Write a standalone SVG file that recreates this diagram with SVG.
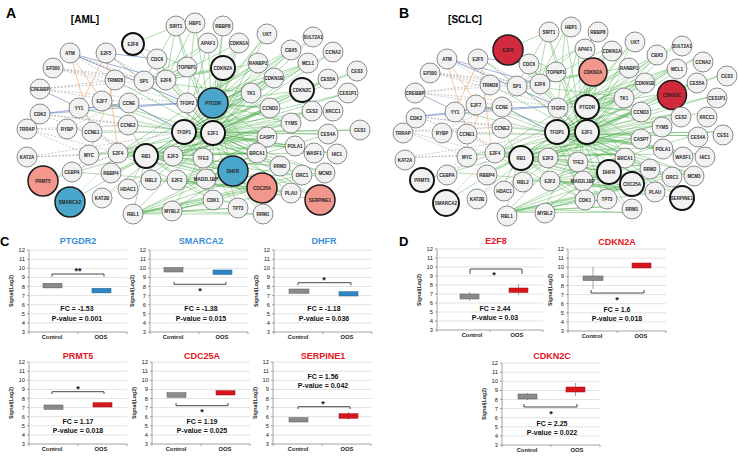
<svg xmlns="http://www.w3.org/2000/svg" width="738" height="457" viewBox="0 0 738 457">
<style>
.n circle{fill:#f2f2f2;stroke:#6e6e6e;stroke-width:.8}
.n text{font-family:"Liberation Sans",Arial,sans-serif;font-size:4.5px;font-weight:bold;fill:#222;text-anchor:middle;dominant-baseline:central}
.n.k circle{stroke:#111;stroke-width:1.9}
.n.bu circle{fill:#4aa6ca;stroke:#1b1b1b;stroke-width:1.5}
.n.sa circle{fill:#f3968b;stroke:#1b1b1b;stroke-width:1.5}
.n.cr circle{fill:#d22a3d;stroke:#1b1b1b;stroke-width:1.5}
.eg{fill:none;stroke:#45ab45;stroke-width:.55;opacity:.8}
.ed{fill:none;stroke:#8a8a8a;stroke-width:.55;stroke-dasharray:2 1.5;opacity:.85}
.eb{fill:none;stroke:#5a7cc0;stroke-width:.7;opacity:.85}
.eo{fill:none;stroke:#f0a060;stroke-width:.6}
.pl{font-family:"Liberation Sans",Arial,sans-serif;font-weight:bold;fill:#000}
.tt{font-family:"Liberation Sans",Arial,sans-serif;font-weight:bold;font-size:9px;text-anchor:middle}
.tb{fill:#3b8fd4}.tr{fill:#e3141c}
.fc{font-family:"Liberation Sans",Arial,sans-serif;font-weight:bold;font-size:7px;text-anchor:middle;fill:#111}
.cat{font-family:"Liberation Sans",Arial,sans-serif;font-weight:bold;font-size:5.8px;text-anchor:middle;fill:#222}
.tk{font-family:"Liberation Sans",Arial,sans-serif;font-size:5.8px;text-anchor:end;fill:#222}
.yl{font-family:"Liberation Sans",Arial,sans-serif;font-weight:bold;font-size:5.3px;text-anchor:middle;fill:#222}
.st{font-family:"Liberation Sans",Arial,sans-serif;font-weight:bold;font-size:9px;text-anchor:middle;fill:#111}
.br{fill:none;stroke:#333;stroke-width:.9}
.grid{fill:none;stroke:#d6d6d6;stroke-width:.7}
.ax{fill:none;stroke:#8a8a8a;stroke-width:.8}
.gr{fill:#8a8a8a;stroke:#555;stroke-width:.5}
.bl{fill:#2f86c4;stroke:#1d5e8e;stroke-width:.5}
.rd{fill:#d8141c;stroke:#9e0f14;stroke-width:.5}
.wh{stroke:#666;stroke-width:.6}
</style>
<defs>
<g id="frame">
<path class="grid" d="M0 -9.1H98M0 -18.2H98M0 -27.3H98M0 -36.4H98M0 -45.5H98M0 -54.6H98M0 -63.7H98M0 -72.8H98M0 -81.9H98"/>
<path class="ax" d="M0 -81.9V0H98M-2 0H0M-2 -9.1H0M-2 -18.2H0M-2 -27.3H0M-2 -36.4H0M-2 -45.5H0M-2 -54.6H0M-2 -63.7H0M-2 -72.8H0M-2 -81.9H0M0 0V2M49 0V2M98 0V2"/>
<text class="tk" x="-4" y="2">3</text><text class="tk" x="-4" y="-7.1">4</text><text class="tk" x="-4" y="-16.2">5</text><text class="tk" x="-4" y="-25.3">6</text><text class="tk" x="-4" y="-34.4">7</text><text class="tk" x="-4" y="-43.5">8</text><text class="tk" x="-4" y="-52.6">9</text><text class="tk" x="-4" y="-61.7">10</text><text class="tk" x="-4" y="-70.8">11</text><text class="tk" x="-4" y="-79.9">12</text>
<text class="yl" transform="translate(-16,-41) rotate(-90)">Signal(Log2)</text>
</g>
<g id="frameW">
<path class="grid" d="M0 -9H106M0 -18H106M0 -27H106M0 -36H106M0 -45H106M0 -54H106M0 -63H106M0 -72H106M0 -81H106"/>
<path class="ax" d="M0 -81V0H106M-2 0H0M-2 -9H0M-2 -18H0M-2 -27H0M-2 -36H0M-2 -45H0M-2 -54H0M-2 -63H0M-2 -72H0M-2 -81H0M0 0V2M53 0V2M106 0V2"/>
<text class="tk" x="-4" y="2">3</text><text class="tk" x="-4" y="-7">4</text><text class="tk" x="-4" y="-16">5</text><text class="tk" x="-4" y="-25">6</text><text class="tk" x="-4" y="-34">7</text><text class="tk" x="-4" y="-43">8</text><text class="tk" x="-4" y="-52">9</text><text class="tk" x="-4" y="-61">10</text><text class="tk" x="-4" y="-70">11</text><text class="tk" x="-4" y="-79">12</text>
<text class="yl" transform="translate(-16,-40) rotate(-90)">Signal(Log2)</text>
</g>
</defs>
<rect width="738" height="457" fill="#fff"/>

<text class="pl" x="6" y="18" font-size="14">A</text>
<text class="pl" x="85" y="23" font-size="10" text-anchor="middle">[AML]</text>
<text class="pl" x="399" y="18" font-size="14">B</text>
<text class="pl" x="465" y="23" font-size="10" text-anchor="middle">[SCLC]</text>
<text class="pl" x="0" y="246" font-size="13">C</text>
<text class="pl" x="399" y="246" font-size="13">D</text>

<g id="edges-A">
<path class="eg" d="M213 133L176 26M213 133L195 23M213 133L223 26M213 133L208 43M213 133L239 43M213 133L267 34M213 133L313 37M213 133L291 50M213 133L333 52M213 133L308 63M213 133L357 71M213 133L258 63M213 133L274 78M213 133L328 79M213 133L302 90M213 133L348 93M213 133L251 93M213 133L270 108M213 133L312 111M213 133L333 111M213 133L291 123M213 133L360 130M213 133L328 134M213 133L267 137M213 133L295 146M213 133L314 153M213 133L337 154M213 133L257 153M213 133L280 166M213 133L302 175M213 133L325 173M213 133L291 193M213 133L320 200M213 133L238 208M213 133L263 214M213 133L213 200M213 133L172 211M213 133L133 214M213 133L203 158M213 133L206 179"/>
<path class="eg" d="M184 132L239 43M184 132L267 34M184 132L291 50M184 132L308 63M184 132L328 79M184 132L348 93M184 132L312 111M184 132L360 130M184 132L328 134M184 132L295 146M184 132L337 154M184 132L325 173M184 132L302 175M184 132L320 200M184 132L263 214M184 132L238 208M184 132L313 37M184 132L333 52M184 132L357 71M184 132L280 166M184 132L213 200"/>
<path class="eg" d="M213 103L223 68M213 103L187 67M213 103L251 93M213 103L274 78M213 103L258 63M213 103L270 108M213 103L308 63M213 103L291 50M213 103L267 34M213 103L302 90M213 103L291 123M213 103L267 137M213 103L257 153M213 103L233 171M213 103L239 43"/>
<path class="eg" d="M146 156L257 153M146 156L267 137M146 156L262 188M146 156L251 93M146 156L274 78M146 156L270 108M146 156L280 166M146 156L291 193M146 156L302 175M146 156L314 153M146 156L291 123M146 156L213 200M146 156L238 208M146 156L233 171"/>
<path class="eg" d="M118 153L258 63M118 153L251 93M118 153L270 108M118 153L267 137M118 153L257 153M118 153L262 188M118 153L295 146M118 153L280 166M118 153L213 200M118 153L233 171"/>
<path class="eg" d="M133 214L213 200M133 214L238 208M133 214L263 214M133 214L262 188M133 214L291 193M133 214L325 173M133 214L302 175M133 214L257 153M133 214L280 166M133 214L233 171"/>
<path class="eg" d="M177 180L262 188M177 180L291 193M177 180L320 200M177 180L325 173M177 180L328 134M177 180L267 137M177 180L233 171M173 156L251 93M173 156L270 108M173 156L291 123M173 156L312 111M173 156L257 153M173 156L233 171M172 211L263 214M172 211L262 188M172 211L238 208M172 211L233 171M172 211L213 200"/>
<path class="eg" d="M187 103L258 63M187 103L274 78M187 103L251 93M187 103L308 63M187 103L291 50M187 103L239 43M187 103L270 108M166 80L176 26M166 80L195 23M166 80L208 43M166 80L223 68M166 80L239 43M166 80L187 67M166 80L258 63M166 80L213 133M144 81L176 26M144 81L187 67M144 81L223 68M144 81L208 43M144 81L251 93M144 81L213 133"/>
<path class="eg" d="M133 44L187 67M133 44L213 133M133 44L176 26M176 26L187 67M157 59L187 103M157 59L213 133M115 80L213 133M102 101L213 133M102 101L184 132M129 103L184 132M128 125L213 133M89 155L118 153M89 155L213 133M72 172L177 180M111 173L213 133M111 173L146 156M128 189L213 133M128 189L146 156M102 198L184 132M70 202L146 156M43 181L213 133M92 132L213 133M79 108L184 132M106 53L213 133M128 125L146 156M133 214L146 156M151 180L213 133M151 180L262 188M151 180L291 193M187 67L213 133M223 68L213 133M208 43L184 132M195 23L187 103M223 26L213 103"/>
<path class="ed" d="M70 53L115 80M70 53L144 81M70 53L187 103M53 68L115 80M53 68L166 80M53 68L187 103M40 89L115 80M40 89L144 81M40 89L187 103M40 89L129 103M106 53L144 81M106 53L187 103M27 129L118 153M27 129L213 133M27 129L128 125M27 129L89 155M27 157L89 155M27 157L118 153M27 157L184 132M67 129L166 80M67 129L128 125M40 114L213 133M40 114L146 156M72 172L118 153M72 172L89 155M70 202L118 153M102 198L213 133M43 181L118 153M92 132L146 156M79 108L118 153M40 114L128 125M53 68L144 81"/>
<path class="eb" d="M70 53L166 80M70 53L187 103M40 114L187 103M40 114L129 103M79 108L187 103M129 103L184 132M40 89L79 108M106 53L157 59"/>
<path class="eo" d="M70 53L102 101M70 53L92 132M106 53L79 108M106 53L118 153M115 80L89 155"/>
</g>
<g id="edges-B" transform="matrix(0.955 0 0 0.96 379.2 7)"><use href="#edges-A"/></g>

<g id="nodes-A">
<g id="A-SIRT1" class="n"><circle cx="176" cy="26" r="10"/><text x="176" y="26">SIRT1</text></g>
<g id="A-HBP1" class="n"><circle cx="195" cy="23" r="10"/><text x="195" y="23">HBP1</text></g>
<g id="A-RBBP8" class="n"><circle cx="223" cy="26" r="10"/><text x="223" y="26">RBBP8</text></g>
<g id="A-E2F8" class="n k"><circle cx="133" cy="44" r="11"/><text x="133" y="44">E2F8</text></g>
<g id="A-APAF1" class="n"><circle cx="208" cy="43" r="10"/><text x="208" y="43">APAF1</text></g>
<g id="A-CDKN1A" class="n"><circle cx="239" cy="43" r="10"/><text x="239" y="43">CDKN1A</text></g>
<g id="A-UXT" class="n"><circle cx="267" cy="34" r="10"/><text x="267" y="34">UXT</text></g>
<g id="A-SULT2A1" class="n"><circle cx="313" cy="37" r="10"/><text x="313" y="37">SULT2A1</text></g>
<g id="A-ATM" class="n"><circle cx="70" cy="53" r="10"/><text x="70" y="53">ATM</text></g>
<g id="A-E2F5" class="n"><circle cx="106" cy="53" r="10"/><text x="106" y="53">E2F5</text></g>
<g id="A-CDC6" class="n"><circle cx="157" cy="59" r="10"/><text x="157" y="59">CDC6</text></g>
<g id="A-CBX5" class="n"><circle cx="291" cy="50" r="10"/><text x="291" y="50">CBX5</text></g>
<g id="A-CCNA2" class="n"><circle cx="333" cy="52" r="10"/><text x="333" y="52">CCNA2</text></g>
<g id="A-EP300" class="n"><circle cx="53" cy="68" r="10"/><text x="53" y="68">EP300</text></g>
<g id="A-TOPBP1" class="n"><circle cx="187" cy="67" r="10"/><text x="187" y="67">TOPBP1</text></g>
<g id="A-CDKN2A" class="n k"><circle cx="223" cy="68" r="12"/><text x="223" y="68">CDKN2A</text></g>
<g id="A-RANBP1" class="n"><circle cx="258" cy="63" r="10"/><text x="258" y="63">RANBP1</text></g>
<g id="A-MCL1" class="n"><circle cx="308" cy="63" r="10"/><text x="308" y="63">MCL1</text></g>
<g id="A-CES3" class="n"><circle cx="357" cy="71" r="10"/><text x="357" y="71">CES3</text></g>
<g id="A-TRIM28" class="n"><circle cx="115" cy="80" r="10"/><text x="115" y="80">TRIM28</text></g>
<g id="A-SP1" class="n"><circle cx="144" cy="81" r="10"/><text x="144" y="81">SP1</text></g>
<g id="A-E2F6" class="n"><circle cx="166" cy="80" r="10"/><text x="166" y="80">E2F6</text></g>
<g id="A-CDKN1B" class="n"><circle cx="274" cy="78" r="10"/><text x="274" y="78">CDKN1B</text></g>
<g id="A-CES5A" class="n"><circle cx="328" cy="79" r="10"/><text x="328" y="79">CES5A</text></g>
<g id="A-CREBBP" class="n"><circle cx="40" cy="89" r="10"/><text x="40" y="89">CREBBP</text></g>
<g id="A-CDKN2C" class="n k"><circle cx="302" cy="90" r="12"/><text x="302" y="90">CDKN2C</text></g>
<g id="A-CES1P1" class="n"><circle cx="348" cy="93" r="10"/><text x="348" y="93">CES1P1</text></g>
<g id="A-TK1" class="n"><circle cx="251" cy="93" r="10"/><text x="251" y="93">TK1</text></g>
<g id="A-E2F7" class="n"><circle cx="102" cy="101" r="10"/><text x="102" y="101">E2F7</text></g>
<g id="A-CCNE" class="n"><circle cx="129" cy="103" r="10"/><text x="129" y="103">CCNE</text></g>
<g id="A-TFDP2" class="n"><circle cx="187" cy="103" r="10"/><text x="187" y="103">TFDP2</text></g>
<g id="A-PTGDR" class="n bu"><circle cx="213" cy="103" r="15"/><text x="213" y="103">PTGDR</text></g>
<g id="A-YY1" class="n"><circle cx="79" cy="108" r="10"/><text x="79" y="108">YY1</text></g>
<g id="A-CDK2" class="n"><circle cx="40" cy="114" r="10"/><text x="40" y="114">CDK2</text></g>
<g id="A-CCND3" class="n"><circle cx="270" cy="108" r="10"/><text x="270" y="108">CCND3</text></g>
<g id="A-CES2" class="n"><circle cx="312" cy="111" r="10"/><text x="312" y="111">CES2</text></g>
<g id="A-XRCC1" class="n"><circle cx="333" cy="111" r="10"/><text x="333" y="111">XRCC1</text></g>
<g id="A-TRRAP" class="n"><circle cx="27" cy="129" r="10"/><text x="27" y="129">TRRAP</text></g>
<g id="A-RYBP" class="n"><circle cx="67" cy="129" r="10"/><text x="67" y="129">RYBP</text></g>
<g id="A-CCNE1" class="n"><circle cx="92" cy="132" r="10"/><text x="92" y="132">CCNE1</text></g>
<g id="A-CCNE2" class="n"><circle cx="128" cy="125" r="10"/><text x="128" y="125">CCNE2</text></g>
<g id="A-TFDP1" class="n k"><circle cx="184" cy="132" r="12"/><text x="184" y="132">TFDP1</text></g>
<g id="A-E2F1" class="n k"><circle cx="213" cy="133" r="12"/><text x="213" y="133">E2F1</text></g>
<g id="A-TYMS" class="n"><circle cx="291" cy="123" r="10"/><text x="291" y="123">TYMS</text></g>
<g id="A-CES1" class="n"><circle cx="360" cy="130" r="10"/><text x="360" y="130">CES1</text></g>
<g id="A-CES4A" class="n"><circle cx="328" cy="134" r="10"/><text x="328" y="134">CES4A</text></g>
<g id="A-CASP7" class="n"><circle cx="267" cy="137" r="10"/><text x="267" y="137">CASP7</text></g>
<g id="A-POLA1" class="n"><circle cx="295" cy="146" r="10"/><text x="295" y="146">POLA1</text></g>
<g id="A-WASF1" class="n"><circle cx="314" cy="153" r="10"/><text x="314" y="153">WASF1</text></g>
<g id="A-HIC1" class="n"><circle cx="337" cy="154" r="10"/><text x="337" y="154">HIC1</text></g>
<g id="A-KAT2A" class="n"><circle cx="27" cy="157" r="10"/><text x="27" y="157">KAT2A</text></g>
<g id="A-MYC" class="n"><circle cx="89" cy="155" r="10"/><text x="89" y="155">MYC</text></g>
<g id="A-E2F4" class="n"><circle cx="118" cy="153" r="10"/><text x="118" y="153">E2F4</text></g>
<g id="A-RB1" class="n k"><circle cx="146" cy="156" r="12"/><text x="146" y="156">RB1</text></g>
<g id="A-E2F3" class="n"><circle cx="173" cy="156" r="10"/><text x="173" y="156">E2F3</text></g>
<g id="A-TFE3" class="n"><circle cx="203" cy="158" r="10"/><text x="203" y="158">TFE3</text></g>
<g id="A-BRCA1" class="n"><circle cx="257" cy="153" r="10"/><text x="257" y="153">BRCA1</text></g>
<g id="A-RRM2" class="n"><circle cx="280" cy="166" r="10"/><text x="280" y="166">RRM2</text></g>
<g id="A-DHFR" class="n bu"><circle cx="233" cy="171" r="15"/><text x="233" y="171">DHFR</text></g>
<g id="A-ORC1" class="n"><circle cx="302" cy="175" r="10"/><text x="302" y="175">ORC1</text></g>
<g id="A-MCM3" class="n"><circle cx="325" cy="173" r="10"/><text x="325" y="173">MCM3</text></g>
<g id="A-PRMT5" class="n sa"><circle cx="43" cy="181" r="15"/><text x="43" y="181">PRMT5</text></g>
<g id="A-CEBPA" class="n"><circle cx="72" cy="172" r="10"/><text x="72" y="172">CEBPA</text></g>
<g id="A-RBBP4" class="n"><circle cx="111" cy="173" r="10"/><text x="111" y="173">RBBP4</text></g>
<g id="A-RBL2" class="n"><circle cx="151" cy="180" r="10"/><text x="151" y="180">RBL2</text></g>
<g id="A-E2F2" class="n"><circle cx="177" cy="180" r="10"/><text x="177" y="180">E2F2</text></g>
<g id="A-MAD2L1BP" class="n"><circle cx="206" cy="179" r="10"/><text x="206" y="179">MAD2L1BP</text></g>
<g id="A-HDAC1" class="n"><circle cx="128" cy="189" r="10"/><text x="128" y="189">HDAC1</text></g>
<g id="A-KAT2B" class="n"><circle cx="102" cy="198" r="10"/><text x="102" y="198">KAT2B</text></g>
<g id="A-SMARCA2" class="n bu"><circle cx="70" cy="202" r="15"/><text x="70" y="202">SMARCA2</text></g>
<g id="A-CDC25A" class="n sa"><circle cx="262" cy="188" r="15"/><text x="262" y="188">CDC25A</text></g>
<g id="A-PLAU" class="n"><circle cx="291" cy="193" r="10"/><text x="291" y="193">PLAU</text></g>
<g id="A-SERPINE1" class="n sa"><circle cx="320" cy="200" r="15"/><text x="320" y="200">SERPINE1</text></g>
<g id="A-RBL1" class="n"><circle cx="133" cy="214" r="10"/><text x="133" y="214">RBL1</text></g>
<g id="A-MYBL2" class="n"><circle cx="172" cy="211" r="10"/><text x="172" y="211">MYBL2</text></g>
<g id="A-CDK1" class="n"><circle cx="213" cy="200" r="10"/><text x="213" y="200">CDK1</text></g>
<g id="A-TP73" class="n"><circle cx="238" cy="208" r="10"/><text x="238" y="208">TP73</text></g>
<g id="A-RRM1" class="n"><circle cx="263" cy="214" r="10"/><text x="263" y="214">RRM1</text></g>
</g>

<g id="nodes-B">
<g id="B-SIRT1" class="n"><circle cx="549" cy="32" r="10"/><text x="549" y="32">SIRT1</text></g>
<g id="B-HBP1" class="n"><circle cx="571" cy="27" r="10"/><text x="571" y="27">HBP1</text></g>
<g id="B-RBBP8" class="n"><circle cx="598" cy="32" r="10"/><text x="598" y="32">RBBP8</text></g>
<g id="B-E2F8" class="n cr"><circle cx="508" cy="50" r="15"/><text x="508" y="50">E2F8</text></g>
<g id="B-APAF1" class="n"><circle cx="585" cy="49" r="10"/><text x="585" y="49">APAF1</text></g>
<g id="B-CDKN1A" class="n"><circle cx="612" cy="51" r="10"/><text x="612" y="51">CDKN1A</text></g>
<g id="B-UXT" class="n"><circle cx="635" cy="42" r="10"/><text x="635" y="42">UXT</text></g>
<g id="B-SULT2A1" class="n"><circle cx="682" cy="46" r="10"/><text x="682" y="46">SULT2A1</text></g>
<g id="B-ATM" class="n"><circle cx="447" cy="59" r="10"/><text x="447" y="59">ATM</text></g>
<g id="B-E2F5" class="n"><circle cx="478" cy="59" r="10"/><text x="478" y="59">E2F5</text></g>
<g id="B-CDC6" class="n"><circle cx="529" cy="64" r="10"/><text x="529" y="64">CDC6</text></g>
<g id="B-CBX5" class="n"><circle cx="657" cy="55" r="10"/><text x="657" y="55">CBX5</text></g>
<g id="B-CCNA2" class="n"><circle cx="703" cy="62" r="10"/><text x="703" y="62">CCNA2</text></g>
<g id="B-EP300" class="n"><circle cx="430" cy="73" r="10"/><text x="430" y="73">EP300</text></g>
<g id="B-TOPBP1" class="n"><circle cx="556" cy="72" r="10"/><text x="556" y="72">TOPBP1</text></g>
<g id="B-CDKN2A" class="n sa"><circle cx="593" cy="72" r="14"/><text x="593" y="72">CDKN2A</text></g>
<g id="B-RANBP1" class="n"><circle cx="629" cy="68" r="10"/><text x="629" y="68">RANBP1</text></g>
<g id="B-MCL1" class="n"><circle cx="677" cy="69" r="10"/><text x="677" y="69">MCL1</text></g>
<g id="B-CES3" class="n"><circle cx="727" cy="76" r="10"/><text x="727" y="76">CES3</text></g>
<g id="B-TRIM28" class="n"><circle cx="490" cy="85" r="10"/><text x="490" y="85">TRIM28</text></g>
<g id="B-SP1" class="n"><circle cx="517" cy="86" r="10"/><text x="517" y="86">SP1</text></g>
<g id="B-E2F6" class="n"><circle cx="540" cy="84" r="10"/><text x="540" y="84">E2F6</text></g>
<g id="B-CDKN1B" class="n"><circle cx="645" cy="83" r="10"/><text x="645" y="83">CDKN1B</text></g>
<g id="B-CES5A" class="n"><circle cx="697" cy="83" r="10"/><text x="697" y="83">CES5A</text></g>
<g id="B-CREBBP" class="n"><circle cx="415" cy="93" r="10"/><text x="415" y="93">CREBBP</text></g>
<g id="B-CDKN2C" class="n cr"><circle cx="672" cy="95" r="14.5"/><text x="672" y="95">CDKN2C</text></g>
<g id="B-CES1P1" class="n"><circle cx="717" cy="98" r="10"/><text x="717" y="98">CES1P1</text></g>
<g id="B-TK1" class="n"><circle cx="624" cy="98" r="10"/><text x="624" y="98">TK1</text></g>
<g id="B-E2F7" class="n"><circle cx="476" cy="105" r="10"/><text x="476" y="105">E2F7</text></g>
<g id="B-CCNE" class="n"><circle cx="502" cy="107" r="10"/><text x="502" y="107">CCNE</text></g>
<g id="B-TFDP2" class="n"><circle cx="558" cy="108" r="10"/><text x="558" y="108">TFDP2</text></g>
<g id="B-PTGDR" class="n k"><circle cx="587" cy="107" r="12"/><text x="587" y="107">PTGDR</text></g>
<g id="B-YY1" class="n"><circle cx="455" cy="112" r="10"/><text x="455" y="112">YY1</text></g>
<g id="B-CDK2" class="n"><circle cx="416" cy="118" r="10"/><text x="416" y="118">CDK2</text></g>
<g id="B-CCND3" class="n"><circle cx="641" cy="112" r="10"/><text x="641" y="112">CCND3</text></g>
<g id="B-CES2" class="n"><circle cx="681" cy="117" r="10"/><text x="681" y="117">CES2</text></g>
<g id="B-XRCC1" class="n"><circle cx="707" cy="117" r="10"/><text x="707" y="117">XRCC1</text></g>
<g id="B-TRRAP" class="n"><circle cx="403" cy="133" r="10"/><text x="403" y="133">TRRAP</text></g>
<g id="B-RYBP" class="n"><circle cx="442" cy="133" r="10"/><text x="442" y="133">RYBP</text></g>
<g id="B-CCNE1" class="n"><circle cx="467" cy="134" r="10"/><text x="467" y="134">CCNE1</text></g>
<g id="B-CCNE2" class="n"><circle cx="502" cy="128" r="10"/><text x="502" y="128">CCNE2</text></g>
<g id="B-TFDP1" class="n k"><circle cx="557" cy="132" r="12"/><text x="557" y="132">TFDP1</text></g>
<g id="B-E2F1" class="n k"><circle cx="587" cy="132" r="12"/><text x="587" y="132">E2F1</text></g>
<g id="B-TYMS" class="n"><circle cx="662" cy="127" r="10"/><text x="662" y="127">TYMS</text></g>
<g id="B-CES1" class="n"><circle cx="723" cy="135" r="10"/><text x="723" y="135">CES1</text></g>
<g id="B-CES4A" class="n"><circle cx="698" cy="137" r="10"/><text x="698" y="137">CES4A</text></g>
<g id="B-CASP7" class="n"><circle cx="641" cy="139" r="10"/><text x="641" y="139">CASP7</text></g>
<g id="B-POLA1" class="n"><circle cx="663" cy="149" r="10"/><text x="663" y="149">POLA1</text></g>
<g id="B-WASF1" class="n"><circle cx="683" cy="157" r="10"/><text x="683" y="157">WASF1</text></g>
<g id="B-HIC1" class="n"><circle cx="705" cy="157" r="10"/><text x="705" y="157">HIC1</text></g>
<g id="B-KAT2A" class="n"><circle cx="405" cy="160" r="10"/><text x="405" y="160">KAT2A</text></g>
<g id="B-MYC" class="n"><circle cx="467" cy="157" r="10"/><text x="467" y="157">MYC</text></g>
<g id="B-E2F4" class="n"><circle cx="495" cy="153" r="10"/><text x="495" y="153">E2F4</text></g>
<g id="B-RB1" class="n k"><circle cx="521" cy="158" r="12"/><text x="521" y="158">RB1</text></g>
<g id="B-E2F3" class="n"><circle cx="548" cy="158" r="10"/><text x="548" y="158">E2F3</text></g>
<g id="B-TFE3" class="n"><circle cx="578" cy="162" r="10"/><text x="578" y="162">TFE3</text></g>
<g id="B-BRCA1" class="n"><circle cx="625" cy="158" r="10"/><text x="625" y="158">BRCA1</text></g>
<g id="B-RRM2" class="n"><circle cx="650" cy="169" r="10"/><text x="650" y="169">RRM2</text></g>
<g id="B-DHFR" class="n k"><circle cx="609" cy="172" r="12"/><text x="609" y="172">DHFR</text></g>
<g id="B-ORC1" class="n"><circle cx="672" cy="177" r="10"/><text x="672" y="177">ORC1</text></g>
<g id="B-MCM3" class="n"><circle cx="694" cy="176" r="10"/><text x="694" y="176">MCM3</text></g>
<g id="B-PRMT5" class="n k"><circle cx="422" cy="180" r="12"/><text x="422" y="180">PRMT5</text></g>
<g id="B-CEBPA" class="n"><circle cx="447" cy="175" r="10"/><text x="447" y="175">CEBPA</text></g>
<g id="B-RBBP4" class="n"><circle cx="487" cy="175" r="10"/><text x="487" y="175">RBBP4</text></g>
<g id="B-RBL2" class="n"><circle cx="523" cy="182" r="10"/><text x="523" y="182">RBL2</text></g>
<g id="B-E2F2" class="n"><circle cx="550" cy="181" r="10"/><text x="550" y="181">E2F2</text></g>
<g id="B-MAD2L1BP" class="n"><circle cx="583" cy="181" r="10"/><text x="583" y="181">MAD2L1BP</text></g>
<g id="B-HDAC1" class="n"><circle cx="504" cy="191" r="10"/><text x="504" y="191">HDAC1</text></g>
<g id="B-KAT2B" class="n"><circle cx="477" cy="199" r="10"/><text x="477" y="199">KAT2B</text></g>
<g id="B-SMARCA2" class="n k"><circle cx="446" cy="203" r="13"/><text x="446" y="203">SMARCA2</text></g>
<g id="B-CDC25A" class="n k"><circle cx="632" cy="184" r="12"/><text x="632" y="184">CDC25A</text></g>
<g id="B-PLAU" class="n"><circle cx="655" cy="192" r="10"/><text x="655" y="192">PLAU</text></g>
<g id="B-SERPINE1" class="n k"><circle cx="682" cy="198" r="12"/><text x="682" y="198">SERPINE1</text></g>
<g id="B-RBL1" class="n"><circle cx="507" cy="216" r="10"/><text x="507" y="216">RBL1</text></g>
<g id="B-MYBL2" class="n"><circle cx="545" cy="213" r="10"/><text x="545" y="213">MYBL2</text></g>
<g id="B-CDK1" class="n"><circle cx="585" cy="200" r="10"/><text x="585" y="200">CDK1</text></g>
<g id="B-TP73" class="n"><circle cx="607" cy="199" r="10"/><text x="607" y="199">TP73</text></g>
<g id="B-RRM1" class="n"><circle cx="632" cy="209" r="10"/><text x="632" y="209">RRM1</text></g>
</g>

<g id="chart-PTGDR2" transform="translate(29,332)">
<use href="#frame"/>
<text class="tt tb" x="49" y="-88.5">PTGDR2</text>
<rect class="gr" x="14" y="-48.7" width="19" height="4.6"/>
<rect class="bl" x="63" y="-43.7" width="19" height="4.6"/>
<path class="br" d="M23 -55.5V-58H75V-55.5"/>
<text class="st" x="49" y="-58.5">**</text>
<text class="fc" x="48" y="-21.5">FC = -1.53</text>
<text class="fc" x="48" y="-11.5">P-value = 0.001</text>
<text class="cat" x="23" y="7">Control</text><text class="cat" x="72" y="7">OOS</text>
</g>
<g id="chart-SMARCA2" transform="translate(150,332)">
<use href="#frame"/>
<text class="tt tb" x="51" y="-88.5">SMARCA2</text>
<rect class="gr" x="14" y="-64.5" width="19" height="4.5"/>
<rect class="bl" x="63" y="-62" width="19" height="4.4"/>
<path class="br" d="M24 -50.3V-47.7H76V-50.3"/>
<text class="st" x="50" y="-38">*</text>
<text class="fc" x="51" y="-21.5">FC = -1.38</text>
<text class="fc" x="51" y="-11.5">P-value = 0.015</text>
<text class="cat" x="23" y="7">Control</text><text class="cat" x="72" y="7">OOS</text>
</g>
<g id="chart-DHFR" transform="translate(274,332)">
<use href="#frame"/>
<text class="tt tb" x="50" y="-88.5">DHFR</text>
<rect class="gr" x="15" y="-43" width="20" height="4.3"/>
<rect class="bl" x="65" y="-40.3" width="19" height="4.3"/>
<path class="br" d="M24 -46.7V-49.3H77V-46.7"/>
<text class="st" x="50" y="-49">*</text>
<text class="fc" x="50" y="-21.5">FC = -1.18</text>
<text class="fc" x="50" y="-11.5">P-value = 0.036</text>
<text class="cat" x="24" y="7">Control</text><text class="cat" x="73" y="7">OOS</text>
</g>
<g id="chart-PRMT5" transform="translate(29,444)">
<use href="#frame"/>
<text class="tt tr" x="49" y="-85.5">PRMT5</text>
<rect class="gr" x="15" y="-39" width="19" height="4.3"/>
<rect class="rd" x="64" y="-41.3" width="19" height="4.3"/>
<path class="br" d="M23 -50V-52.3H75V-50"/>
<text class="st" x="49" y="-52">*</text>
<text class="fc" x="49" y="-20.5">FC = 1.17</text>
<text class="fc" x="49" y="-11.5">P-value = 0.018</text>
<text class="cat" x="23" y="7">Control</text><text class="cat" x="72" y="7">OOS</text>
</g>
<g id="chart-CDC25A" transform="translate(152,444)">
<use href="#frame"/>
<text class="tt tr" x="50" y="-85.5">CDC25A</text>
<rect class="gr" x="15" y="-51.3" width="19" height="4.6"/>
<rect class="rd" x="64" y="-53.3" width="19" height="4.3"/>
<path class="br" d="M24 -41V-38.3H76V-41"/>
<text class="st" x="50" y="-29">*</text>
<text class="fc" x="50" y="-20">FC = 1.19</text>
<text class="fc" x="50" y="-11.5">P-value = 0.025</text>
<text class="cat" x="24" y="7">Control</text><text class="cat" x="73" y="7">OOS</text>
</g>
<g id="chart-SERPINE1" transform="translate(273,444)">
<use href="#frame"/>
<text class="tt tr" x="50" y="-85.5">SERPINE1</text>
<line class="wh" x1="75.5" y1="-32" x2="75.5" y2="-24"/>
<rect class="gr" x="16" y="-26.3" width="19" height="4.3"/>
<rect class="rd" x="66" y="-30.3" width="19" height="4.6"/>
<path class="br" d="M25 -35V-37.3H77V-35"/>
<text class="st" x="50" y="-37">*</text>
<text class="fc" x="50" y="-65.5">FC = 1.56</text>
<text class="fc" x="50" y="-56.5">P-value = 0.042</text>
<text class="cat" x="25" y="7">Control</text><text class="cat" x="74" y="7">OOS</text>
</g>
<g id="chart-E2F8" transform="translate(437,330)">
<use href="#frameW"/>
<text class="tt tr" x="59" y="-86.5">E2F8</text>
<line class="wh" x1="32.5" y1="-38" x2="32.5" y2="-29"/>
<line class="wh" x1="81.5" y1="-46" x2="81.5" y2="-35"/>
<rect class="gr" x="23" y="-36" width="19" height="5"/>
<rect class="rd" x="72" y="-42" width="19" height="4.5"/>
<path class="br" d="M33 -56V-61H85V-56"/>
<text class="st" x="57" y="-52">*</text>
<text class="fc" x="58" y="-19.5">FC = 2.44</text>
<text class="fc" x="58" y="-10.5">P-value = 0.03</text>
<text class="cat" x="35" y="7">Control</text><text class="cat" x="80" y="7">OOS</text>
</g>
<g id="chart-CDKN2A" transform="translate(568,331)">
<use href="#frame"/>
<text class="tt tr" x="49" y="-86">CDKN2A</text>
<line class="wh" x1="25" y1="-64" x2="25" y2="-42"/>
<rect class="gr" x="15" y="-55" width="20" height="4.5"/>
<rect class="rd" x="64" y="-68" width="19" height="5"/>
<path class="br" d="M23 -41V-38H76V-41"/>
<text class="st" x="49" y="-28">*</text>
<text class="fc" x="49" y="-19.5">FC = 1.6</text>
<text class="fc" x="49" y="-10.5">P-value = 0.018</text>
<text class="cat" x="24" y="7">Control</text><text class="cat" x="73" y="7">OOS</text>
</g>
<g id="chart-CDKN2C" transform="translate(502,445)">
<use href="#frame"/>
<text class="tt tr" x="50" y="-86.5">CDKN2C</text>
<line class="wh" x1="25.5" y1="-52" x2="25.5" y2="-45"/>
<line class="wh" x1="73.5" y1="-62" x2="73.5" y2="-49"/>
<rect class="gr" x="16" y="-51" width="19" height="5"/>
<rect class="rd" x="64" y="-58" width="19" height="5"/>
<path class="br" d="M22 -41V-38H75V-41"/>
<text class="st" x="49" y="-28">*</text>
<text class="fc" x="50" y="-19.5">FC = 2.25</text>
<text class="fc" x="50" y="-10.5">P-value = 0.022</text>
<text class="cat" x="25" y="7">Control</text><text class="cat" x="75" y="7">OOS</text>
</g>
</svg>
